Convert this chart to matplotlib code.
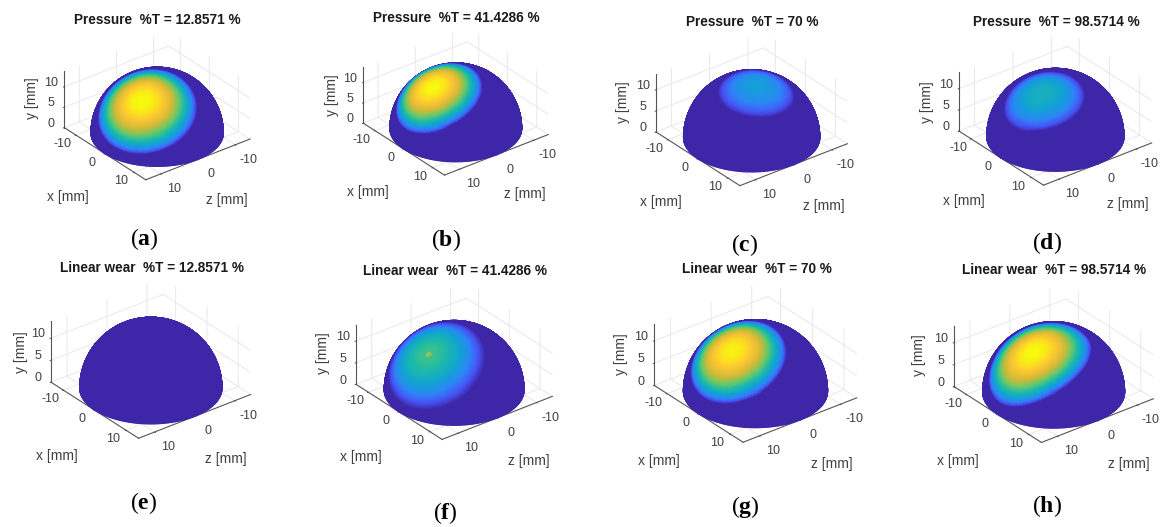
import numpy as np
import matplotlib
matplotlib.use('Agg')
import matplotlib.pyplot as plt
from matplotlib.colors import LinearSegmentedColormap
from mpl_toolkits.mplot3d import proj3d

plt.rcParams['font.family'] = ['Liberation Sans', 'DejaVu Sans']
plt.rcParams['mathtext.fontset'] = 'custom'
plt.rcParams['mathtext.rm'] = 'Liberation Serif'
plt.rcParams['mathtext.bf'] = 'Liberation Serif:bold'
plt.rcParams['axes.unicode_minus'] = False

W, H = 1166, 527

# Data
panel_names = ['a', 'b', 'c', 'd', 'e', 'f', 'g', 'h']
titles = ['Pressure  %T = 12.8571 %', 'Pressure  %T = 41.4286 %',
          'Pressure  %T = 70 %', 'Pressure  %T = 98.5714 %',
          'Linear wear  %T = 12.8571 %', 'Linear wear  %T = 41.4286 %',
          'Linear wear  %T = 70 %', 'Linear wear  %T = 98.5714 %']
tick_values = [-10, 0, 10]
height_ticks = [0, 5, 10]
sphere_radius = 14
height_limit = 13.8

# hot spot of each panel: level (0-1 of the colour scale), centre seen from the viewer, semi axes
peak_level = [1.0, 1.0, 0.36, 0.45, 0.0, 0.56, 0.98, 1.0]
core_level = [0, 0, 0, 0, 0, 0.68, 0, 0]
spot_u = [-0.23, -0.35, 0.075, -0.20, 0.0, -0.37, -0.33, -0.29]
spot_v = [0.47, 0.62, 0.75, 0.61, 0.5, 0.50, 0.555, 0.555]
spot_long = [0.76, 0.70, 0.56, 0.60, 0.5, 0.74, 0.70, 0.78]
spot_short = [0.72, 0.66, 0.53, 0.54, 0.5, 0.72, 0.68, 0.64]
spot_tilt = [0, 30, 0, 15, 0, 0, 20, 35]
spot_power = [0.7, 0.7, 0.7, 0.7, 0.7, 0.9, 0.7, 0.7]

# Layout in picture pixels
left_corner = [(64.3, 126.7), (363.3, 122.7), (656, 130.7), (959, 130.7),
               (51, 381), (356, 384), (654.3, 385), (954, 385.3)]
right_corner = [(250, 140), (548.3, 135), (847.3, 145), (1151.7, 143.3),
                (250.7, 395.7), (552.3, 396.7), (856.7, 398.3), (1153.3, 400)]
title_pos = [(157, 20.3), (456, 17.7), (752.7, 22), (1056, 22),
             (151.7, 267.7), (455.3, 271.3), (756.7, 269.3), (1054.3, 270.3)]
xlabel_pos = [(68.3, 196.7), (368, 191.7), (660.7, 202.3), (964, 201),
              (57.3, 456), (361, 457.3), (659.3, 460.7), (958.3, 460.7)]
zlabel_pos = [(227.3, 200), (525, 194.3), (824, 205.7), (1128.3, 204),
              (226, 459), (529.3, 461), (832.3, 464), (1129.3, 464)]
ylabel_pos = [(31.7, 98.3), (331.7, 95), (622.7, 101.7), (926.7, 101.7),
              (20.7, 351.7), (322.7, 353.3), (620.7, 354), (919.3, 355)]
caption_pos = [(144, 239.3), (445.7, 240), (745, 245), (1046.7, 243.3),
               (144, 503.3), (445.7, 513.3), (745, 506.7), (1046.7, 506)]

ELEV, AZIM = 30, 52
TEXT_COLOR = '#404040'

parula = LinearSegmentedColormap.from_list('parula', [
    (0.0, (0.2422, 0.1504, 0.6603)),
    (0.125, (0.2810, 0.3228, 0.9579)),
    (0.25, (0.1786, 0.5289, 0.9682)),
    (0.375, (0.0689, 0.6396, 0.8376)),
    (0.5, (0.1085, 0.7286, 0.6725)),
    (0.625, (0.4000, 0.7900, 0.4200)),
    (0.75, (0.8200, 0.7300, 0.2200)),
    (0.875, (0.9900, 0.7800, 0.2000)),
    (1.0, (0.9760, 0.9830, 0.0540)),
])


def view_basis():
    # unit vectors of the screen, written as (z, x, y) = plot axes X, Y, Z
    az, el = np.radians(AZIM), np.radians(ELEV)
    right = np.array([-np.sin(az), np.cos(az), 0])
    toward = np.array([np.cos(el) * np.cos(az), np.cos(el) * np.sin(az), np.sin(el)])
    up = np.cross(toward, right)
    return right, up, toward


def spot_field(X, Y, Z, i):
    right, up, toward = view_basis()
    u, v = spot_u[i], spot_v[i]
    centre = u * right + v * up + np.sqrt(1 - u**2 - v**2) * toward
    # long axis of the patch, tilted from screen right
    t = np.radians(spot_tilt[i])
    e1 = np.cos(t) * right + np.sin(t) * up
    e1 = e1 - e1.dot(centre) * centre
    e1 /= np.linalg.norm(e1)
    e2 = np.cross(centre, e1)
    px, py, pz = X / sphere_radius, Y / sphere_radius, Z / sphere_radius
    s = px * e1[0] + py * e1[1] + pz * e1[2]
    q = px * e2[0] + py * e2[1] + pz * e2[2]
    front = px * centre[0] + py * centre[1] + pz * centre[2]
    r2 = (s / spot_long[i])**2 + (q / spot_short[i])**2
    val = np.clip(1 - r2, 0, 1)**spot_power[i]
    val[front < 0] = 0
    field = peak_level[i] * val
    # tiny bright dot in the middle of (f)
    if core_level[i] > 0:
        field[(r2 < 0.004) & (front > 0)] = core_level[i]
    return field


def fit_axes(ax, lc, rc):
    # puts the two side corners of the floor on the wanted pixels
    ax.apply_aspect()
    M = ax.get_proj()
    xs, ys, _ = proj3d.proj_transform(
        np.array([sphere_radius, -sphere_radius]),
        np.array([-sphere_radius, sphere_radius]),
        np.array([0, 0]), M)
    to_frac = ax.transData + ax.transAxes.inverted()
    f = to_frac.transform(np.column_stack([xs, ys]))
    size = (rc[0] - lc[0]) / (f[1, 0] - f[0, 0])
    left = lc[0] - f[0, 0] * size
    mid_y = H - (lc[1] + rc[1]) / 2
    bottom = mid_y - (f[0, 1] + f[1, 1]) / 2 * size
    ax.set_position([left / W, bottom / H, size / W, size / H])


def px_text(fig, pos, s, **kw):
    fig.text(pos[0] / W, 1 - pos[1] / H, s, ha='center', va='center', **kw)


fig = plt.figure(figsize=(W / 100, H / 100), dpi=100)

lat = np.linspace(0, np.pi / 2, 90)
lon = np.linspace(0, 2 * np.pi, 280)
LON, LAT = np.meshgrid(lon, lat)
X = sphere_radius * np.cos(LAT) * np.cos(LON)
Y = sphere_radius * np.cos(LAT) * np.sin(LON)
Z = sphere_radius * np.sin(LAT)

for i, name in enumerate(panel_names):
    ax = fig.add_axes([0, 0, 0.3, 0.3 * W / H], projection='3d', proj_type='ortho')
    ax.view_init(elev=ELEV, azim=AZIM)
    ax.set_xlim(-sphere_radius, sphere_radius, view_margin=0)
    ax.set_ylim(-sphere_radius, sphere_radius, view_margin=0)
    ax.set_zlim(0, height_limit, view_margin=0)
    ax.set_box_aspect((2 * sphere_radius, 2 * sphere_radius, height_limit))
    ax.patch.set_alpha(0)

    field = spot_field(X, Y, Z, i)
    colors = parula(field)
    ax.plot_surface(X, Y, Z, facecolors=colors, rstride=1, cstride=1,
                    shade=False, linewidth=0.8, antialiased=True)

    ax.set_xticks(tick_values)
    ax.set_yticks(tick_values)
    ax.set_zticks(height_ticks)
    ax.tick_params(labelsize=9, colors=TEXT_COLOR)
    ax.tick_params(axis='x', pad=4)
    ax.tick_params(axis='y', pad=1)
    ax.tick_params(axis='z', pad=-3)
    plt.setp(ax.get_xticklabels(), va='baseline')
    plt.setp(ax.get_yticklabels(), va='baseline')
    plt.setp(ax.get_zticklabels(), va='baseline')
    ax.zaxis.set_ticks_position('lower')
    for axis in (ax.xaxis, ax.yaxis, ax.zaxis):
        axis.set_pane_color((1, 1, 1, 0))
        axis.pane.set_edgecolor('none')
        axis.line.set_color('#555555')
        axis.line.set_linewidth(0.8)
        axis._axinfo['grid'].update(color='#e8e8e8', linewidth=0.7)
        axis._axinfo['tick'].update(inward_factor=0.1, outward_factor=0, linewidth={True: 0.6, False: 0.4})

    fit_axes(ax, left_corner[i], right_corner[i])

    px_text(fig, title_pos[i], titles[i], fontsize=9.8, fontweight='bold', color='#1a1a1a')
    px_text(fig, xlabel_pos[i], 'x [mm]', fontsize=10, color=TEXT_COLOR)
    px_text(fig, zlabel_pos[i], 'z [mm]', fontsize=10, color=TEXT_COLOR)
    px_text(fig, ylabel_pos[i], 'y [mm]', fontsize=10, color=TEXT_COLOR, rotation=90)
    px_text(fig, caption_pos[i], rf'$\mathrm{{(}}\mathbf{{{name}}}\mathrm{{)}}$', fontsize=17, color='black')

plt.savefig('out.png', dpi=100)
